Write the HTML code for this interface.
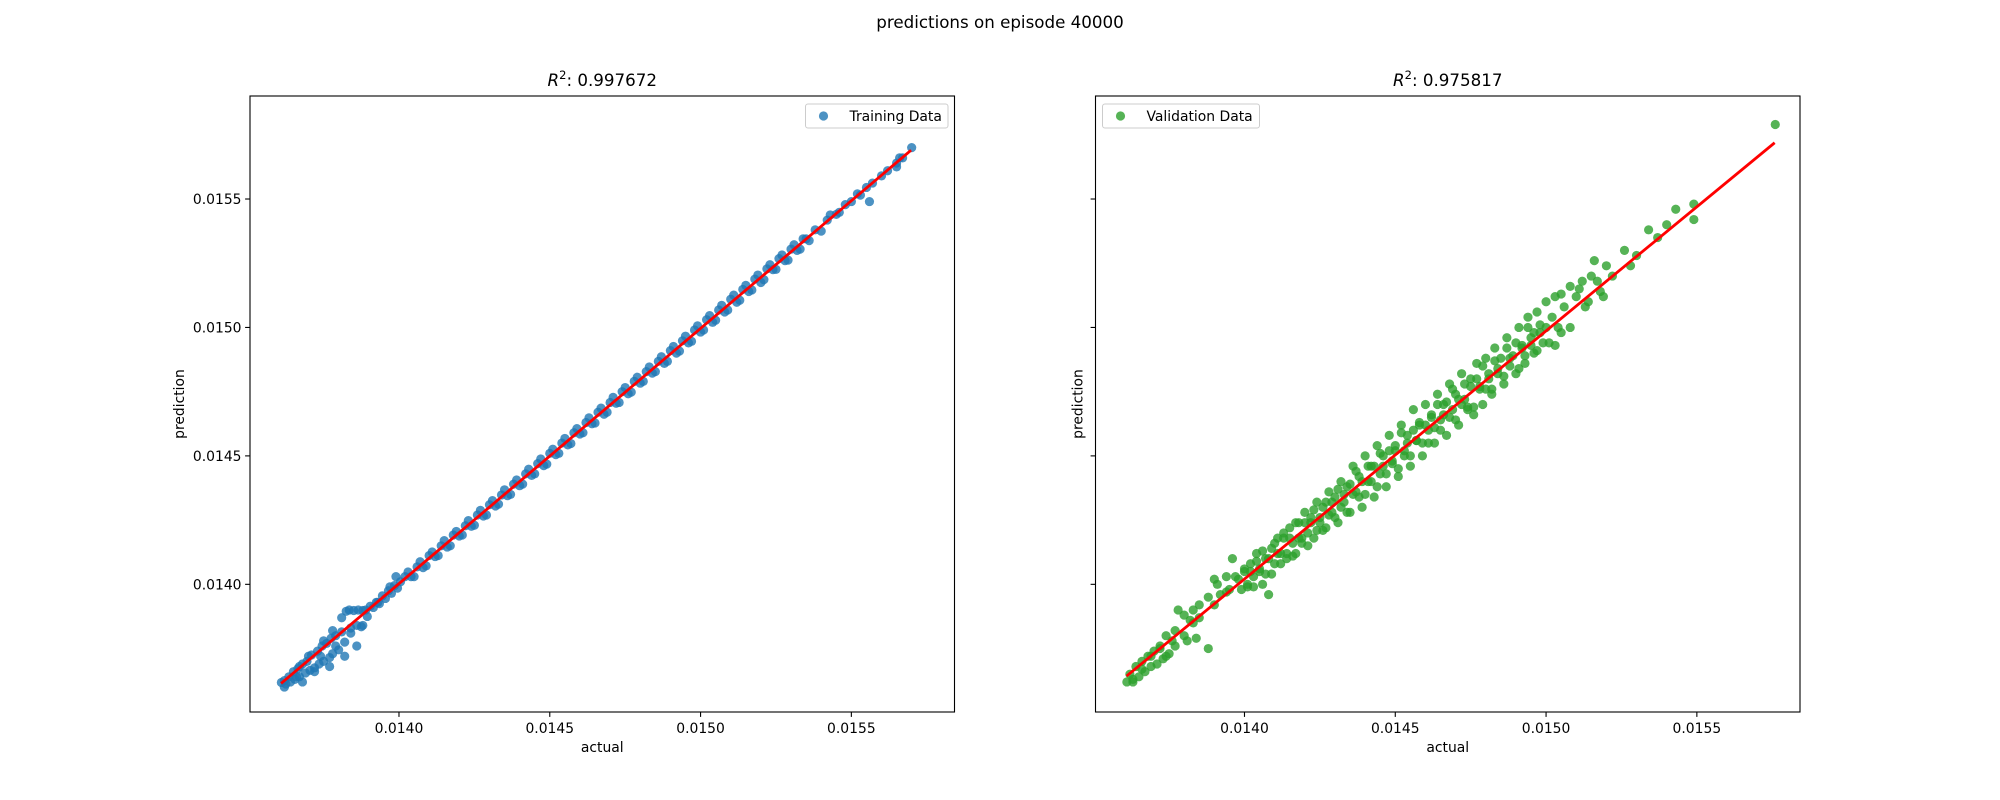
<!DOCTYPE html>
<html><head><meta charset="utf-8"><style>
html,body{margin:0;padding:0;background:#fff}
svg{display:block;font-family:"DejaVu Sans","Liberation Sans",sans-serif}
</style></head><body>
<svg id="fig" width="2000" height="800" viewBox="0 0 2000 800">
<rect x="0" y="0" width="2000" height="800" fill="#fff"/>
<text x="1000" y="28" font-size="16.7" text-anchor="middle">predictions on episode 40000</text>
<g id="left"></g>
<g id="right"></g>
</svg>
<script>
const xTicks = [0.0140, 0.0145, 0.0150, 0.0155];
const xTickLabels = ["0.0140", "0.0145", "0.0150", "0.0155"];
const yTicks = [0.0140, 0.0145, 0.0150, 0.0155];
const yTickLabels = ["0.0140", "0.0145", "0.0150", "0.0155"];
const xLim = [0.013506, 0.015842];
const yLim = [0.013503, 0.015901];

const trainActual = [0.013610,0.013620,0.013625,0.013635,0.013640,0.013650,0.013655,0.013665,0.013670,0.013680,0.013690,0.013695,0.013705,0.013710,0.013720,0.013730,0.013735,0.013745,0.013750,0.013760,0.013770,0.013775,0.013780,0.013790,0.013800,0.013810,0.013820,0.013825,0.013835,0.013840,0.013850,0.013860,0.013865,0.013875,0.013880,0.013890,0.013895,0.013905,0.013915,0.013925,0.013935,0.013945,0.013955,0.013965,0.013975,0.013985,0.013995,0.014005,
0.01402,0.01404,0.01406,0.01408,0.01410,0.01412,0.01414,0.01416,0.01418,0.01420,0.01422,0.01424,0.01426,0.01428,0.01430,0.01432,0.01434,0.01436,0.01438,0.01440,0.01442,0.01444,0.01446,0.01448,0.01450,0.01452,0.01454,0.01456,0.01458,0.01460,0.01462,0.01464,0.01466,0.01468,0.01470,0.01472,0.01474,0.01476,0.01478,0.01480,0.01482,0.01484,0.01486,0.01488,0.01490,0.01492,0.01494,0.01496,0.01498,0.01500,0.01502,0.01504,0.01506,0.01508,0.01510,0.01512,0.01514,0.01516,0.01518,0.01520,0.01522,0.01524,0.01526,0.01528,0.01530,0.01532,0.01534,0.01536,0.01538,0.01540,0.01542,0.01545,0.01548,0.01550,0.01552,0.01555,0.01557,0.01560,0.01562,0.01565,0.01567,0.01570];
const trainPred = [0.013618,0.013625,0.013612,0.013640,0.013620,0.013660,0.013630,0.013672,0.013640,0.013690,0.013655,0.013700,0.013665,0.013725,0.013675,0.013740,0.013690,0.013760,0.013700,0.013770,0.013715,0.013790,0.013730,0.013800,0.013745,0.013815,0.013775,0.013895,0.013900,0.013810,0.013898,0.013840,0.013900,0.013835,0.013898,0.013900,0.013875,0.013915,0.013910,0.013930,0.013925,0.013955,0.013945,0.013975,0.013965,0.013995,0.013985,0.014010,
0.014030,0.014030,0.014068,0.014065,0.014112,0.014108,0.014150,0.014145,0.014192,0.014188,0.014228,0.014226,0.014270,0.014266,0.014310,0.014305,0.014348,0.014345,0.014390,0.014384,0.014430,0.014424,0.014470,0.014462,0.014510,0.014505,0.014550,0.014543,0.014590,0.014585,0.014630,0.014625,0.014670,0.014662,0.014708,0.014705,0.014750,0.014742,0.014790,0.014783,0.014828,0.014822,0.014868,0.014860,0.014910,0.014900,0.014948,0.014940,0.014990,0.014982,0.015030,0.015020,0.015068,0.015060,0.015110,0.015098,0.015148,0.015140,0.015188,0.015175,0.015228,0.015225,0.015268,0.015260,0.015305,0.015300,0.015345,0.015338,0.015380,0.015375,0.015418,0.015440,0.015478,0.015490,0.015520,0.015545,0.015562,0.015590,0.015610,0.015640,0.015660,0.015700];
const trainActual2 = [0.01403,0.01405,0.01407,0.01409,0.01411,0.01413,0.01415,0.01417,0.01419,0.01421,0.01423,0.01425,0.01427,0.01429,0.01431,0.01433,0.01435,0.01437,0.01439,0.01441,0.01443,0.01445,0.01447,0.01449,0.01451,0.01453,0.01455,0.01457,0.01459,0.01461,0.01463,0.01465,0.01467,0.01469,0.01471,0.01473,0.01475,0.01477,0.01479,0.01481,0.01483,0.01485,0.01487,0.01489,0.01491,0.01493,0.01495,0.01497,0.01499,0.01501,0.01503,0.01505,0.01507,0.01509,0.01511,0.01513,0.01515,0.01517,0.01519,0.01521,0.01523,0.01525,0.01527,0.01529,0.01531,0.01533,0.01535,0.01543,0.01546,0.01553,0.01556,0.01565,0.01566,
0.01362,0.01366,0.01368,0.01372,0.01374,0.01377,0.01379,0.01382,0.01384,0.01386,0.01388,0.01378,0.01375,0.01370,0.01367,0.01381,0.01393,0.01397,0.01399];
const trainPred2 = [0.014048,0.014030,0.014088,0.014072,0.014126,0.014112,0.014170,0.014150,0.014206,0.014192,0.014248,0.014230,0.014288,0.014270,0.014326,0.014312,0.014368,0.014350,0.014406,0.014390,0.014448,0.014430,0.014488,0.014468,0.014526,0.014510,0.014568,0.014548,0.014606,0.014590,0.014648,0.014628,0.014686,0.014670,0.014728,0.014708,0.014766,0.014748,0.014806,0.014790,0.014846,0.014828,0.014886,0.014868,0.014926,0.014908,0.014966,0.014946,0.015006,0.014990,0.015046,0.015028,0.015086,0.015068,0.015126,0.015106,0.015164,0.015146,0.015204,0.015186,0.015244,0.015226,0.015282,0.015262,0.015322,0.015305,0.015345,0.015438,0.015448,0.015515,0.015490,0.015625,0.015660,
0.013600,0.013640,0.013620,0.013660,0.013720,0.013680,0.013760,0.013720,0.013830,0.013760,0.013840,0.013820,0.013780,0.013720,0.013680,0.013870,0.013930,0.013990,0.014030];
const trainFit = [[0.013609, 0.013614], [0.015698, 0.015690]];

const valActual = [0.01361,0.01362,0.01363,0.01364,0.01365,0.01366,0.01367,0.01368,0.01369,0.01370,0.01371,0.01372,0.01373,0.01374,0.01375,0.01376,0.01377,0.01378,0.01380,0.01381,0.01382,0.01383,0.01384,0.01385,0.01388,0.01388,0.01390,0.01391,0.01392,0.01394,0.01395,0.01396,0.01398,0.01399,0.01400,0.01401,0.01402,0.01403,0.01404,0.01405,0.01406,0.01407,0.01408,0.01409,0.01410,0.01411,0.01412,0.01413,0.01414,0.01415,0.01416,0.01417,0.01418,0.01419,0.01420,0.01421,0.01422,0.01423,0.01424,0.01425,0.01426,0.01427,0.01428,0.01429,0.01430,0.01431,0.01432,0.01433,0.01434,0.01435,0.01436,0.01437,0.01438,0.01439,0.01440,0.01441,0.01442,0.01443,0.01444,0.01445,0.01446,0.01447,0.01448,0.01449,0.01450,0.01451,0.01452,0.01453,0.01454,0.01455,0.01456,0.01457,0.01458,0.01459,0.01460,0.01461,0.01462,0.01463,0.01464,0.01465,0.01466,0.01467,0.01468,0.01469,0.01470,0.01471,0.01472,0.01473,0.01474,0.01475,0.01476,0.01477,0.01478,0.01479,0.01480,0.01481,0.01482,0.01483,0.01484,0.01486,0.01487,0.01488,0.01490,0.01491,0.01492,0.01493,0.01494,0.01495,0.01496,0.01497,0.01498,0.01500,0.01501,0.01502,0.01503,0.01504,0.01505,0.01506,0.01508,0.01510,0.01512,0.01513,0.01515,0.01518,0.01520,0.01522,0.01526,0.01528,0.01530,0.01534,0.01537,0.01540,0.01543,0.01549,0.01549,0.01576];
const valPred = [0.01362,0.01365,0.01363,0.01368,0.01364,0.01370,0.01366,0.01372,0.01368,0.01374,0.01369,0.01376,0.01371,0.01380,0.01373,0.01378,0.01376,0.01390,0.01380,0.01378,0.01386,0.01390,0.01379,0.01387,0.01375,0.01395,0.01392,0.01400,0.01396,0.01403,0.01398,0.01410,0.01402,0.01398,0.01405,0.01400,0.01408,0.01403,0.01412,0.01406,0.01400,0.01410,0.01396,0.01414,0.01408,0.01418,0.01412,0.01420,0.01410,0.01422,0.01416,0.01412,0.01424,0.01418,0.01428,0.01420,0.01426,0.01418,0.01432,0.01424,0.01430,0.01422,0.01436,0.01428,0.01434,0.01424,0.01440,0.01432,0.01438,0.01428,0.01446,0.01436,0.01442,0.01430,0.01450,0.01440,0.01446,0.01434,0.01454,0.01443,0.01450,0.01438,0.01458,0.01448,0.01454,0.01442,0.01462,0.01452,0.01458,0.01446,0.01468,0.01456,0.01462,0.01450,0.01470,0.01460,0.01466,0.01455,0.01474,0.01464,0.01470,0.01458,0.01478,0.01468,0.01474,0.01462,0.01482,0.01472,0.01468,0.01480,0.01466,0.01486,0.01476,0.01470,0.01488,0.01480,0.01474,0.01492,0.01484,0.01478,0.01496,0.01488,0.01482,0.01500,0.01492,0.01486,0.01504,0.01496,0.01490,0.01506,0.01498,0.01510,0.01494,0.01504,0.01512,0.01500,0.01498,0.01508,0.01516,0.01512,0.01518,0.01508,0.01520,0.01514,0.01524,0.01520,0.01530,0.01524,0.01528,0.01538,0.01535,0.01540,0.01546,0.01542,0.01548,0.01579];
const valActual2 = [0.01400,0.01401,0.01402,0.01403,0.01404,0.01405,0.01406,0.01407,0.01408,0.01409,0.01410,0.01411,0.01412,0.01413,0.01414,0.01415,0.01416,0.01417,0.01418,0.01419,0.01420,0.01421,0.01422,0.01423,0.01424,0.01425,0.01426,0.01427,0.01428,0.01429,0.01430,0.01431,0.01432,0.01433,0.01434,0.01435,0.01436,0.01437,0.01438,0.01439,0.01440,0.01441,0.01442,0.01443,0.01444,0.01445,0.01446,0.01447,0.01448,0.01449,0.01450,0.01451,0.01452,0.01453,0.01454,0.01455,0.01456,0.01457,0.01458,0.01459,0.01460,0.01461,0.01462,0.01463,0.01464,0.01465,0.01466,0.01467,0.01468,0.01469,0.01470,0.01471,0.01472,0.01473,0.01474,0.01475,0.01476,0.01477,0.01478,0.01479,0.01480,0.01481,0.01482,0.01483,0.01484,0.01485,0.01486,0.01487,0.01488,0.01489,0.01490,0.01491,0.01492,0.01493,0.01494,0.01495,0.01496,0.01497,0.01498,0.01499,0.01500,
0.01390,0.01385,0.01380,0.01377,0.01372,0.01369,0.01366,0.01363,0.01374,0.01383,0.01394,0.01397,0.01505,0.01508,0.01511,0.01514,0.01517,0.01503,0.01516,0.01519];
const valPred2 = [0.014060,0.013990,0.014050,0.013990,0.014090,0.014050,0.014130,0.014040,0.014100,0.014040,0.014160,0.014120,0.014080,0.014180,0.014120,0.014180,0.014110,0.014240,0.014180,0.014160,0.014240,0.014150,0.014240,0.014290,0.014210,0.014260,0.014210,0.014320,0.014270,0.014320,0.014260,0.014370,0.014300,0.014350,0.014280,0.014390,0.014350,0.014440,0.014340,0.014400,0.014350,0.014460,0.014400,0.014460,0.014380,0.014510,0.014460,0.014430,0.014520,0.014470,0.014520,0.014450,0.014590,0.014500,0.014550,0.014500,0.014600,0.014560,0.014630,0.014550,0.014620,0.014550,0.014650,0.014610,0.014700,0.014600,0.014660,0.014710,0.014650,0.014760,0.014640,0.014720,0.014700,0.014780,0.014690,0.014770,0.014690,0.014800,0.014770,0.014850,0.014760,0.014820,0.014760,0.014870,0.014820,0.014880,0.014810,0.014920,0.014850,0.014890,0.014940,0.014840,0.014930,0.014890,0.015000,0.014930,0.014980,0.014910,0.015010,0.014940,0.015000,
0.014020,0.013920,0.013880,0.013820,0.013750,0.013720,0.013670,0.013620,0.013720,0.013850,0.013970,0.014030,0.015130,0.015000,0.015150,0.015100,0.015180,0.014930,0.015260,0.015120];
const valFit = [[0.013609, 0.013643], [0.015758, 0.015719]];

const NS = "http://www.w3.org/2000/svg";
function mk(tag, attrs, parent) {
  const e = document.createElementNS(NS, tag);
  for (const k in attrs) e.setAttribute(k, attrs[k]);
  parent.appendChild(e);
  return e;
}

function panel(g, left, opts) {
  const top = 96, bottom = 712, width = 704.5;
  const sx = v => left + (v - xLim[0]) / (xLim[1] - xLim[0]) * width;
  const sy = v => bottom - (v - yLim[0]) / (yLim[1] - yLim[0]) * (bottom - top);

  const pts = mk('g', {}, g);
  
  
  opts.sets.forEach(([xs, ys]) => {
    for (let i = 0; i < xs.length; i++) {
      const c = mk('circle', {cx: sx(xs[i]), cy: sy(ys[i]), r: 4.6, fill: opts.color, 'fill-opacity': 0.8}, pts);
      
      
    }
  });
  const ln = mk('line', {x1: sx(opts.fit[0][0]), y1: sy(opts.fit[0][1]), x2: sx(opts.fit[1][0]), y2: sy(opts.fit[1][1]), stroke: '#ff0000', 'stroke-width': 2.8}, g);
  
  

  const frame = mk('rect', {x: left, y: top, width: width, height: bottom - top, fill: 'none', stroke: '#000', 'stroke-width': 1.1}, g);
  
  

  xTicks.forEach((v, i) => {
    const x = sx(v);
    const t = mk('line', {x1: x, y1: bottom, x2: x, y2: bottom + 4.9, stroke: '#000', 'stroke-width': 1.1}, g);
    
    
    const l = mk('text', {x: x, y: bottom + 21, 'font-size': 13.9, 'text-anchor': 'middle'}, g);
    
    
    l.textContent = xTickLabels[i];
  });
  yTicks.forEach((v, i) => {
    const y = sy(v);
    const t = mk('line', {x1: left - 4.9, y1: y, x2: left, y2: y, stroke: '#000', 'stroke-width': 1.1}, g);
    
    
    if (opts.showY) {
      const l = mk('text', {x: left - 8.5, y: y + 5, 'font-size': 13.9, 'text-anchor': 'end'}, g);
      
      
      l.textContent = yTickLabels[i];
    }
  });
  const xl = mk('text', {x: left + width / 2, y: 752, 'font-size': 13.9, 'text-anchor': 'middle'}, g);
  
  
  xl.textContent = 'actual';
  const yx = opts.showY ? 184 : left - 13;
  const yl = mk('text', {x: yx, y: (top + bottom) / 2, 'font-size': 13.9, 'text-anchor': 'middle', transform: 'rotate(-90 ' + yx + ' ' + (top + bottom) / 2 + ')'}, g);
  
  
  yl.textContent = 'prediction';

  const tt = mk('text', {x: left + width / 2, y: 86, 'font-size': 16.7, 'text-anchor': 'middle'}, g);
  
  
  const r = mk('tspan', {'font-style': 'italic'}, tt); r.textContent = 'R';
  const s = mk('tspan', {'font-size': 11.5, dy: -7}, tt); s.textContent = '2';
  const rest = mk('tspan', {dy: 7}, tt); rest.textContent = ': ' + opts.r2;

  const lg = mk('g', {}, g);
  
  
  const lx = opts.legendX, lw = opts.legendW;
  mk('rect', {x: lx, y: 104, width: lw, height: 24, rx: 2.5, fill: '#fff', 'fill-opacity': 0.8, stroke: '#cccccc', 'stroke-width': 1}, lg);
  const m = mk('circle', {cx: lx + 18, cy: 116, r: 4.6, fill: opts.color, 'fill-opacity': 0.8}, lg);
  
  
  const lt = mk('text', {x: lx + 44, y: 121, 'font-size': 13.9}, lg);
  
  
  lt.textContent = opts.label;
}

panel(document.getElementById('left'), 250, {name: 'training', sets: [[trainActual, trainPred], [trainActual2, trainPred2]], fit: trainFit, color: '#1f77b4', showY: true, r2: '0.997672', legendX: 805.5, legendW: 142.5, label: 'Training Data'});
panel(document.getElementById('right'), 1095.5, {name: 'validation', sets: [[valActual, valPred], [valActual2, valPred2]], fit: valFit, color: '#2ca02c', showY: false, r2: '0.975817', legendX: 1102.5, legendW: 157, label: 'Validation Data'});
</script>
</body></html>
